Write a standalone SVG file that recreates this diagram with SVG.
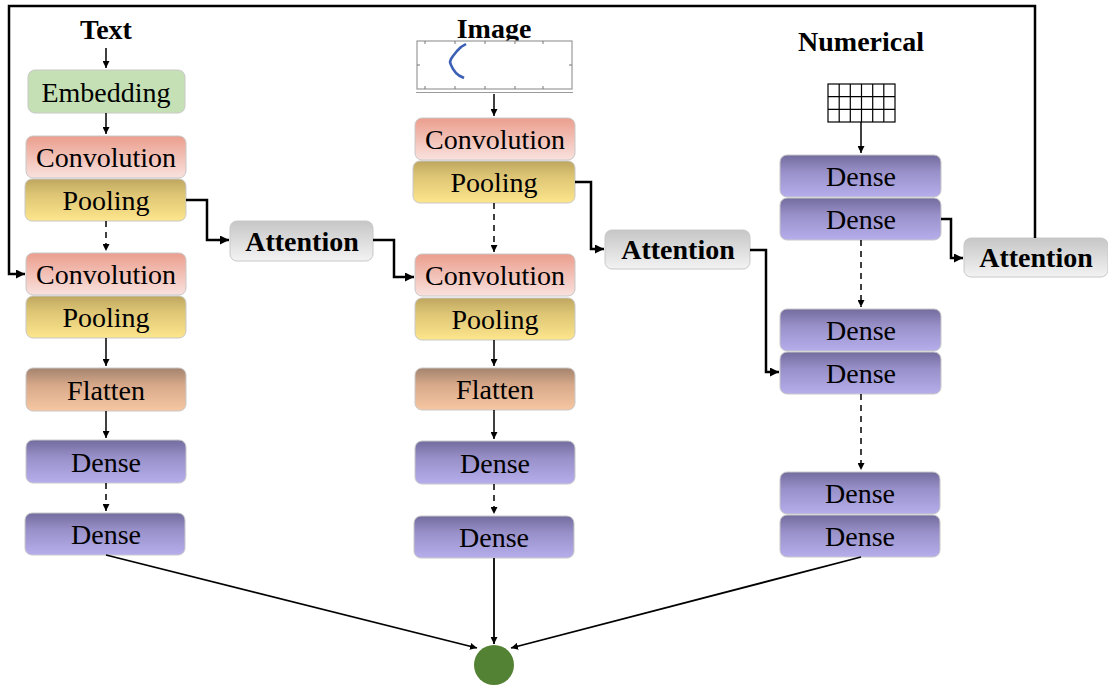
<svg xmlns="http://www.w3.org/2000/svg" width="1108" height="687" viewBox="0 0 1108 687">
  <defs>
    <linearGradient id="gConv" x1="0" y1="0" x2="0" y2="1">
      <stop offset="0" stop-color="#eb9e8d"/>
      <stop offset="1" stop-color="#f9e2de"/>
    </linearGradient>
    <linearGradient id="gPool" x1="0" y1="0" x2="0" y2="1">
      <stop offset="0" stop-color="#bea660"/>
      <stop offset="0.35" stop-color="#dcc474"/>
      <stop offset="1" stop-color="#fde68c"/>
    </linearGradient>
    <linearGradient id="gFlat" x1="0" y1="0" x2="0" y2="1">
      <stop offset="0" stop-color="#a3836e"/>
      <stop offset="0.4" stop-color="#d7a98a"/>
      <stop offset="1" stop-color="#f7c7a2"/>
    </linearGradient>
    <linearGradient id="gDense" x1="0" y1="0" x2="0" y2="1">
      <stop offset="0" stop-color="#736c9e"/>
      <stop offset="0.4" stop-color="#9890c8"/>
      <stop offset="1" stop-color="#b6aeec"/>
    </linearGradient>
    <linearGradient id="gAtt" x1="0" y1="0" x2="0" y2="1">
      <stop offset="0" stop-color="#c6c6c6"/>
      <stop offset="1" stop-color="#f3f3f3"/>
    </linearGradient>
    <marker id="ah" viewBox="0 0 10 10" refX="10" refY="5" markerWidth="7" markerHeight="7" markerUnits="userSpaceOnUse" orient="auto">
      <path d="M0,0 L10,5 L0,10 z" fill="#000"/>
    </marker>
    <marker id="ahb" viewBox="0 0 10 10" refX="10" refY="5" markerWidth="9" markerHeight="9" markerUnits="userSpaceOnUse" orient="auto">
      <path d="M0,0 L10,5 L0,10 z" fill="#000"/>
    </marker>
  </defs>
  <style>
    .box { stroke: #c8c8c8; stroke-width: 1; }
    .emb { fill: #c5e0b4; }
    .conv { fill: url(#gConv); }
    .pool { fill: url(#gPool); }
    .flat { fill: url(#gFlat); }
    .dense { fill: url(#gDense); }
    .att { fill: url(#gAtt); }
    .lbl { font-family: "Liberation Serif", "Times New Roman", serif; font-size: 28px; fill: #000; text-anchor: middle; }
    .bold { font-weight: bold; }
    .thin { fill: none; stroke: #000; stroke-width: 1.5; marker-end: url(#ah); }
    .dash { stroke-dasharray: 6 5; }
    .thick { fill: none; stroke: #000; stroke-width: 2.5; marker-end: url(#ahb); }
    .fan { fill: none; stroke: #000; stroke-width: 1.8; marker-end: url(#ah); }
  </style>
  <rect width="1108" height="687" fill="#fff"/>

  <!-- column headings -->
  <g id="inputs">
    <text class="lbl bold" x="106" y="39">Text</text>
    <text class="lbl bold" x="494" y="38">Image</text>
    <text class="lbl bold" x="861" y="51">Numerical</text>
  </g>

  <!-- image input thumbnail -->
  <g id="image-plot">
    <rect x="417" y="41" width="155" height="48" fill="#fff" stroke="#9a9a9a" stroke-width="1.2"/>
    <line x1="416" y1="92.5" x2="573" y2="92.5" stroke="#9a9a9a" stroke-width="1.2"/>
    <g stroke="#777" stroke-width="1">
      <path d="M425,41v3M455,41v3M485,41v3M515,41v3M543,41v3"/>
      <path d="M425,89v-3M455,89v-3M485,89v-3M515,89v-3M543,89v-3"/>
      <path d="M417,65h3M572,65h-3"/>
    </g>
    <path d="M466,44 L461,47 L457,51 L453,56 L451,59 L450,62 L451,65 L453,69 L456,73 L459,75.5 L464,78" fill="none" stroke="#3b5fb5" stroke-width="2.6" stroke-linejoin="round"/>
  </g>

  <!-- numerical input table -->
  <g id="num-table" fill="none" stroke="#000" stroke-width="1.2">
    <rect x="828" y="84" width="67" height="38"/>
    <path d="M839.2,84v38M850.3,84v38M861.5,84v38M872.7,84v38M883.8,84v38"/>
    <path d="M828,96.7h67M828,109.3h67"/>
  </g>

  <!-- text branch -->
  <g id="t-emb"><rect class="box emb" x="28" y="70" width="157" height="43" rx="7"/><text class="lbl" x="106" y="102">Embedding</text></g>
  <g id="t-conv1"><rect class="box conv" x="26" y="136" width="160" height="42" rx="7"/><text class="lbl" x="106" y="167">Convolution</text></g>
  <g id="t-pool1"><rect class="box pool" x="25" y="179" width="161" height="42" rx="7"/><text class="lbl" x="106" y="210">Pooling</text></g>
  <g id="t-conv2"><rect class="box conv" x="26" y="253" width="160" height="42" rx="7"/><text class="lbl" x="106" y="284">Convolution</text></g>
  <g id="t-pool2"><rect class="box pool" x="26" y="296" width="160" height="42" rx="7"/><text class="lbl" x="106" y="327">Pooling</text></g>
  <g id="t-flat"><rect class="box flat" x="26" y="368" width="160" height="43" rx="7"/><text class="lbl" x="106" y="400">Flatten</text></g>
  <g id="t-dense1"><rect class="box dense" x="26" y="440" width="160" height="43" rx="7"/><text class="lbl" x="106" y="472">Dense</text></g>
  <g id="t-dense2"><rect class="box dense" x="25" y="513" width="160" height="42" rx="7"/><text class="lbl" x="106" y="544">Dense</text></g>

  <!-- image branch -->
  <g id="i-conv1"><rect class="box conv" x="415" y="118" width="160" height="42" rx="7"/><text class="lbl" x="495" y="149">Convolution</text></g>
  <g id="i-pool1"><rect class="box pool" x="413" y="161" width="162" height="42" rx="7"/><text class="lbl" x="494" y="192">Pooling</text></g>
  <g id="i-conv2"><rect class="box conv" x="415" y="254" width="160" height="42" rx="7"/><text class="lbl" x="495" y="285">Convolution</text></g>
  <g id="i-pool2"><rect class="box pool" x="415" y="298" width="160" height="42" rx="7"/><text class="lbl" x="495" y="329">Pooling</text></g>
  <g id="i-flat"><rect class="box flat" x="415" y="368" width="160" height="42" rx="7"/><text class="lbl" x="495" y="399">Flatten</text></g>
  <g id="i-dense1"><rect class="box dense" x="415" y="441" width="160" height="43" rx="7"/><text class="lbl" x="495" y="473">Dense</text></g>
  <g id="i-dense2"><rect class="box dense" x="414" y="516" width="160" height="42" rx="7"/><text class="lbl" x="494" y="547">Dense</text></g>

  <!-- numerical branch -->
  <g id="n-dense1"><rect class="box dense" x="780" y="155" width="161" height="42" rx="7"/><text class="lbl" x="861" y="186">Dense</text></g>
  <g id="n-dense2"><rect class="box dense" x="780" y="198" width="161" height="42" rx="7"/><text class="lbl" x="861" y="229">Dense</text></g>
  <g id="n-dense3"><rect class="box dense" x="780" y="309" width="161" height="42" rx="7"/><text class="lbl" x="861" y="340">Dense</text></g>
  <g id="n-dense4"><rect class="box dense" x="780" y="352" width="161" height="42" rx="7"/><text class="lbl" x="861" y="383">Dense</text></g>
  <g id="n-dense5"><rect class="box dense" x="780" y="472" width="160" height="42" rx="7"/><text class="lbl" x="860" y="503">Dense</text></g>
  <g id="n-dense6"><rect class="box dense" x="780" y="515" width="160" height="42" rx="7"/><text class="lbl" x="860" y="546">Dense</text></g>

  <!-- attention blocks -->
  <g id="att1"><rect class="box att" x="230" y="221" width="143" height="40" rx="7"/><text class="lbl bold" x="302" y="251">Attention</text></g>
  <g id="att2"><rect class="box att" x="605" y="230" width="145" height="39" rx="7"/><text class="lbl bold" x="678" y="259">Attention</text></g>
  <g id="att3"><rect class="box att" x="964" y="238" width="144" height="39" rx="7"/><text class="lbl bold" x="1036" y="267">Attention</text></g>

  <!-- fusion node -->
  <g id="fusion"><circle cx="494" cy="665" r="20" fill="#548235"/></g>

  <g id="connectors">
    <!-- text branch -->
    <path class="thin" d="M106,48 V68"/>
    <path class="thin" d="M106,113 V134"/>
    <path class="thin dash" d="M106,221 V251"/>
    <path class="thin" d="M106,338 V366"/>
    <path class="thin" d="M106,411 V438"/>
    <path class="thin dash" d="M106,483 V511"/>
    <!-- image branch -->
    <path class="thin" d="M494,94 V116"/>
    <path class="thin dash" d="M494,203 V252"/>
    <path class="thin" d="M494,340 V366"/>
    <path class="thin" d="M494,410 V439"/>
    <path class="thin dash" d="M494,484 V514"/>
    <!-- numerical branch -->
    <path class="thin" d="M861,122 V153"/>
    <path class="thin dash" d="M861,240 V307"/>
    <path class="thin dash" d="M861,394 V470"/>
    <!-- attention links -->
    <path class="thick" d="M186,200 H207 V240 H229"/>
    <path class="thick" d="M373,240 H394 V277 H414"/>
    <path class="thick" d="M575,182 H591 V249 H604"/>
    <path class="thick" d="M750,250 H766 V372 H779"/>
    <path class="thick" d="M941,219 H951 V258 H963"/>
    <!-- feedback loop back to text branch -->
    <path class="thick" d="M1035,238 V6 H9 V274 H25"/>
    <!-- fusion -->
    <path class="fan" d="M106,555 L477,648"/>
    <path class="fan" d="M494,558 V644"/>
    <path class="fan" d="M861,557 L511,648"/>
  </g>
</svg>
